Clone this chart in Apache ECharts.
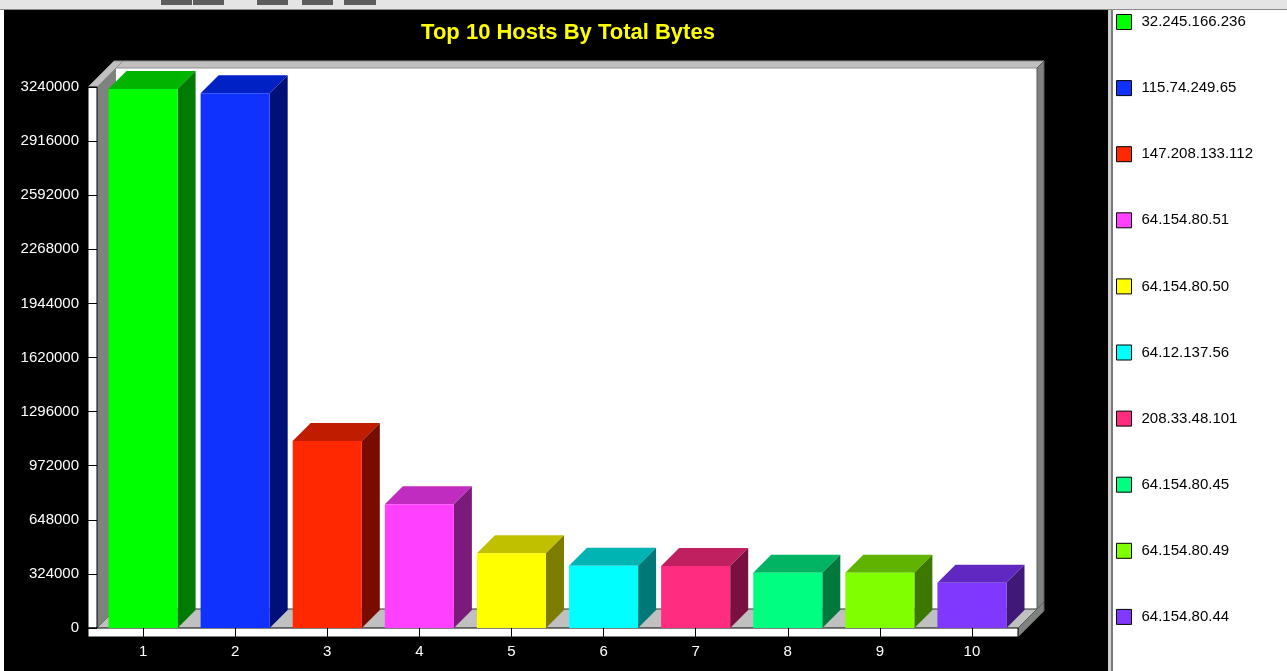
<!DOCTYPE html>
<html>
<head>
<meta charset="utf-8">
<title>Top 10 Hosts By Total Bytes</title>
<script src="https://cdn.jsdelivr.net/npm/echarts@6/dist/echarts.min.js"></script>
<style>
  html, body { margin: 0; padding: 0; background: #ffffff; }
  #chart { width: 1287px; height: 671px; }
</style>
</head>
<body>
<div id="chart"></div>
<script>
// Ranking positions on the x axis
const categories = ['1', '2', '3', '4', '5', '6', '7', '8', '9', '10'];
// Host addresses, in ranking order
const hosts = [
  '32.245.166.236', '115.74.249.65', '147.208.133.112', '64.154.80.51', '64.154.80.50',
  '64.12.137.56', '208.33.48.101', '64.154.80.45', '64.154.80.49', '64.154.80.44'
];
// Total bytes per host
const totalBytes = [3228000, 3202000, 1120000, 741000, 447000, 373000, 372000, 331000, 331000, 271000];
// Value axis range and step
const yMax = 3240000;
const yStep = 324000;

// Face colours of each 3D column: front, top, right side
const frontColors = ['#00ff00', '#0f32ff', '#ff2800', '#ff40ff', '#ffff00', '#00ffff', '#ff2c80', '#00ff80', '#80ff00', '#8038ff'];
const topColors   = ['#00b400', '#0022c4', '#c01c00', '#c02cc0', '#c0c000', '#00b4b4', '#c02060', '#00b464', '#60b400', '#6028c0'];
const sideColors  = ['#007a00', '#001078', '#780c00', '#7a1a7a', '#7c7c00', '#007878', '#7a1040', '#007a3c', '#3c7800', '#401878'];

const FONT = '"Liberation Sans", Arial, sans-serif';
const LIGHT = '#c0c0c0';
const DARK = '#7f837f';

// Box frame: back wall, left wall and floor slabs around the plotting area
function renderFrame(params) {
  const cs = params.coordSys;
  const L = cs.x, R = cs.x + cs.width, T = cs.y, B = cs.y + cs.height;
  const D = 19;   // depth of the box
  const W = 7;    // thickness of the back wall
  const S = 9;    // thickness of the left wall and floor
  const poly = (pts, fill, stroke) => ({
    type: 'polygon', shape: { points: pts },
    style: { fill: fill, stroke: stroke || null, lineWidth: 1 }
  });
  return {
    type: 'group',
    children: [
      // back wall face
      { type: 'rect', shape: { x: L + D, y: T - D, width: R - L, height: B - T }, style: { fill: '#ffffff' } },
      // back wall top
      poly([[L + D, T - D], [R + D, T - D], [R + D + W, T - D - W], [L + D + W, T - D - W]], LIGHT, '#909090'),
      // back wall right end
      poly([[R + D, T - D], [R + D + W, T - D - W], [R + D + W, B - D - W], [R + D, B - D]], DARK, '#5a5a5a'),
      // floor top
      poly([[L, B], [R, B], [R + D, B - D], [L + D, B - D]], LIGHT),
      { type: 'line', shape: { x1: L + D, y1: B - D, x2: R + D, y2: B - D }, style: { stroke: '#303030', lineWidth: 1 } },
      // floor right end
      poly([[R, B], [R, B + S], [R + D + W, B + S - D - W], [R + D + W, B - D - W]], DARK, '#5a5a5a'),
      // left wall inner face
      poly([[L, T], [L + D, T - D], [L + D, B - D], [L, B]], DARK),
      // left wall top
      poly([[L - S, T], [L, T], [L + D + W, T - D - W], [L - S + D + W, T - D - W]], LIGHT, '#909090'),
      // left wall front edge
      { type: 'rect', shape: { x: L - S, y: T, width: S, height: B - T }, style: { fill: '#ffffff', stroke: '#000000', lineWidth: 1 } },
      // floor front edge
      { type: 'rect', shape: { x: L - S, y: B, width: R - L + S, height: S }, style: { fill: '#ffffff', stroke: '#000000', lineWidth: 1 } }
    ]
  };
}

// One 3D column: front rectangle plus top and side faces
function makeBarRenderer(i) {
  return function (params, api) {
    const idx = api.value(0);
    const val = api.value(1);
    const top = api.coord([idx, val]);
    const base = api.coord([idx, 0]);
    const w = api.size([1, 0])[0] * 0.75;
    const d = 18;
    const x0 = top[0] - w / 2, x1 = top[0] + w / 2;
    const yT = top[1], yB = base[1];
    return {
      type: 'group',
      children: [
        { type: 'polygon', shape: { points: [[x0, yT], [x1, yT], [x1 + d, yT - d], [x0 + d, yT - d]] }, style: { fill: topColors[i] } },
        { type: 'polygon', shape: { points: [[x1, yT], [x1, yB], [x1 + d, yB - d], [x1 + d, yT - d]] }, style: { fill: sideColors[i] } },
        { type: 'rect', shape: { x: x0, y: yT, width: w, height: yB - yT }, style: { fill: frontColors[i] } }
      ]
    };
  };
}

const barSeries = hosts.map((host, i) => ({
  type: 'custom',
  name: host,
  z: 3,
  itemStyle: { color: frontColors[i] },
  data: [[i, totalBytes[i]]],
  renderItem: makeBarRenderer(i)
}));

const chart = echarts.init(document.getElementById('chart'));
chart.setOption({
  backgroundColor: '#ffffff',
  animation: false,
  graphic: [
    { type: 'rect', z: 0, shape: { x: 0, y: 0, width: 1287, height: 9 }, style: { fill: '#e4e4e4' } },
    { type: 'rect', z: 0, shape: { x: 161, y: 0, width: 31, height: 5 }, style: { fill: '#5c5c5c' } },
    { type: 'rect', z: 0, shape: { x: 193, y: 0, width: 31, height: 5 }, style: { fill: '#5c5c5c' } },
    { type: 'rect', z: 0, shape: { x: 257, y: 0, width: 31, height: 5 }, style: { fill: '#5c5c5c' } },
    { type: 'rect', z: 0, shape: { x: 302, y: 0, width: 31, height: 5 }, style: { fill: '#5c5c5c' } },
    { type: 'rect', z: 0, shape: { x: 344, y: 0, width: 32, height: 5 }, style: { fill: '#5c5c5c' } },
    { type: 'rect', z: 0, shape: { x: 0, y: 9, width: 1287, height: 1 }, style: { fill: '#8a8a8a' } },
    { type: 'rect', z: 0, shape: { x: 4, y: 10, width: 1104, height: 661 }, style: { fill: '#000000' } },
    { type: 'rect', z: 0, shape: { x: 1108, y: 10, width: 3, height: 661 }, style: { fill: '#d0d0d0' } },
    { type: 'rect', z: 0, shape: { x: 1111, y: 10, width: 2, height: 661 }, style: { fill: '#7a7a7a' } }
  ],
  title: {
    text: 'Top 10 Hosts By Total Bytes',
    left: 568,
    top: 22,
    textAlign: 'center',
    padding: 0,
    textStyle: { color: '#ffff00', fontSize: 22, fontWeight: 'bold', fontFamily: FONT }
  },
  legend: {
    data: hosts,
    orient: 'vertical',
    left: 1116,
    top: 14,
    padding: 0,
    itemWidth: 15,
    itemHeight: 15,
    itemGap: 50.1,
    icon: 'rect',
    selectedMode: false,
    itemStyle: { borderColor: '#000000', borderWidth: 1 },
    textStyle: { color: '#000000', fontSize: 15, fontFamily: FONT, padding: [0, 0, 0, 5] }
  },
  grid: { left: 97, right: 269, top: 87, bottom: 43 },
  xAxis: {
    type: 'category',
    data: categories,
    boundaryGap: true,
    z: 10,
    axisLine: { show: false },
    axisTick: { show: true, alignWithLabel: true, length: 10, lineStyle: { color: '#000000' } },
    axisLabel: { color: '#ffffff', fontSize: 15, fontFamily: FONT, margin: 16 },
    splitLine: { show: false }
  },
  yAxis: {
    type: 'value',
    min: 0,
    max: yMax,
    interval: yStep,
    z: 10,
    axisLine: { show: false },
    axisTick: { show: true, length: 9, lineStyle: { color: '#000000' } },
    axisLabel: { color: '#ffffff', fontSize: 15, fontFamily: FONT, margin: 18, formatter: v => String(v) },
    splitLine: { show: false }
  },
  series: [
    {
      type: 'custom',
      name: 'frame',
      z: 1,
      silent: true,
      data: [[0, 0]],
      renderItem: renderFrame
    }
  ].concat(barSeries)
});
</script>
</body>
</html>
